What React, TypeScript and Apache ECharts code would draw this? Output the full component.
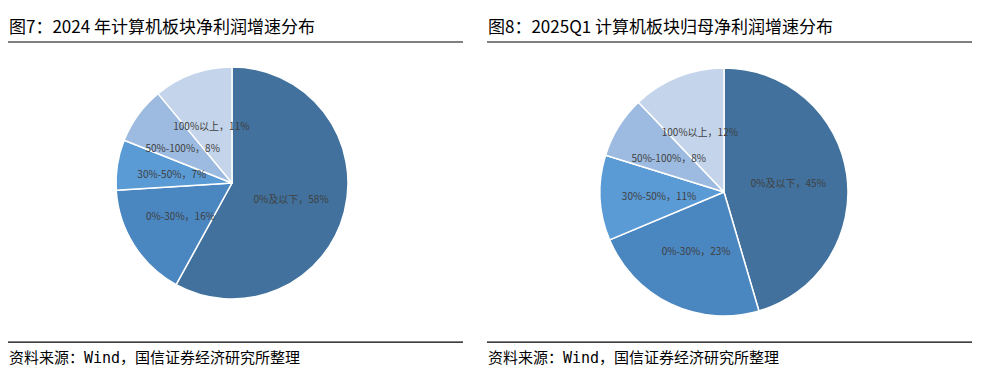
import React, { useEffect, useRef } from "react";
import * as echarts from "echarts";

const categories = ["0%及以下", "0%-30%", "30%-50%", "50%-100%", "100%以上"];
const values2024 = [58, 16, 7, 8, 11];
const values2025Q1 = [45, 23, 11, 8, 12];
const sliceColors = ["#41719C", "#4A86C0", "#5B9BD5", "#9DBBE0", "#C4D5EB"];
const titles = ["图7：2024 年计算机板块净利润增速分布", "图8：2025Q1 计算机板块归母净利润增速分布"];
const sourceText = "资料来源：Wind，国信证券经济研究所整理";

const FONT = "'Noto Sans CJK SC', sans-serif";
const SRC_FONT = "'DejaVu Sans Mono', 'Noto Sans CJK SC', monospace";

function makePie(values: number[], center: [number, number], radius: number) {
  return {
    type: "pie",
    center,
    radius,
    startAngle: 90,
    clockwise: true,
    avoidLabelOverlap: false,
    data: categories.map((name, i) => ({
      name,
      value: values[i],
      itemStyle: { color: sliceColors[i] },
    })),
    itemStyle: { borderColor: "#ffffff", borderWidth: 1.5 },
    label: {
      show: true,
      position: "inside",
      formatter: "{b}，{c}%",
      color: "#404040",
      fontSize: 10,
      fontFamily: FONT,
    },
    labelLine: { show: false },
    emphasis: { disabled: true },
  };
}

export default function App() {
  const ref = useRef<HTMLDivElement>(null);
  useEffect(() => {
    if (!ref.current) return;
    const chart = echarts.init(ref.current, undefined, { renderer: "svg" });
    const panels = [
      { x0: 8, x1: 463 },
      { x0: 487, x1: 972 },
    ];
    const graphics: any[] = [];
    panels.forEach((p, i) => {
      graphics.push({
        type: "text",
        left: p.x0 + 1,
        top: 17,
        style: { text: titles[i], fontSize: 17, fontFamily: FONT, fill: "#000000" },
      });
      graphics.push({
        type: "rect",
        shape: { x: p.x0, y: 41, width: p.x1 - p.x0, height: 2 },
        style: { fill: "#808080" },
      });
      graphics.push({
        type: "rect",
        shape: { x: p.x0, y: 341.5, width: p.x1 - p.x0, height: 1.2 },
        style: { fill: "#000000" },
      });
      graphics.push({
        type: "text",
        left: p.x0 + 1,
        top: 350,
        style: { text: sourceText, fontSize: 15, fontFamily: SRC_FONT, fill: "#000000" },
      });
    });
    chart.setOption({
      animation: false,
      backgroundColor: "#ffffff",
      graphic: graphics,
      series: [
        makePie(values2024, [232, 183], 116),
        makePie(values2025Q1, [724, 192], 124),
      ],
    });
    return () => chart.dispose();
  }, []);
  return (
    <div
      ref={ref}
      style={{ position: "fixed", left: 0, top: 0, width: 988, height: 387 }}
    />
  );
}
